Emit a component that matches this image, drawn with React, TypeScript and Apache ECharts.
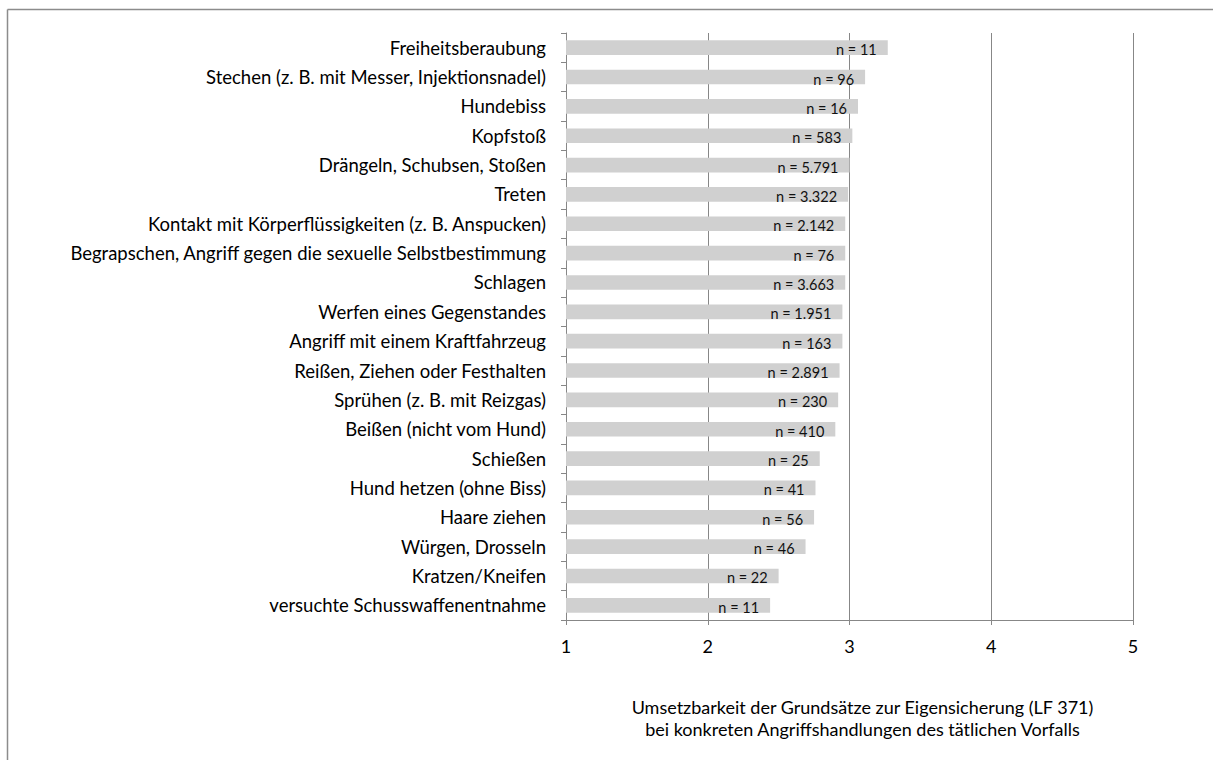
import React, { useEffect, useRef } from "react";
import * as echarts from "echarts";

const categories: string[] = [
  "Freiheitsberaubung",
  "Stechen (z. B. mit Messer, Injektionsnadel)",
  "Hundebiss",
  "Kopfstoß",
  "Drängeln, Schubsen, Stoßen",
  "Treten",
  "Kontakt mit Körperflüssigkeiten (z. B. Anspucken)",
  "Begrapschen, Angriff gegen die sexuelle Selbstbestimmung",
  "Schlagen",
  "Werfen eines Gegenstandes",
  "Angriff mit einem Kraftfahrzeug",
  "Reißen, Ziehen oder Festhalten",
  "Sprühen (z. B. mit Reizgas)",
  "Beißen (nicht vom Hund)",
  "Schießen",
  "Hund hetzen (ohne Biss)",
  "Haare ziehen",
  "Würgen, Drosseln",
  "Kratzen/Kneifen",
  "versuchte Schusswaffenentnahme",
];

const means: number[] = [
  3.27, 3.11, 3.06, 3.02, 3.0, 2.99, 2.97, 2.97, 2.97, 2.95, 2.95, 2.93, 2.92, 2.9, 2.79, 2.76,
  2.75, 2.69, 2.5, 2.44,
];

const nLabels: string[] = [
  "n = 11", "n = 96", "n = 16", "n = 583", "n = 5.791", "n = 3.322", "n = 2.142", "n = 76",
  "n = 3.663", "n = 1.951", "n = 163", "n = 2.891", "n = 230", "n = 410", "n = 25", "n = 41",
  "n = 56", "n = 46", "n = 22", "n = 11",
];

const xTicks = { min: 1, max: 5, interval: 1 };
const axisTitle =
  "Umsetzbarkeit der Grundsätze zur Eigensicherung (LF 371)\nbei konkreten Angriffshandlungen des tätlichen Vorfalls";

const FONT = "Lato, 'Liberation Sans', sans-serif";
const GRID_COLOR = "#878787";

export default function App() {
  const ref = useRef<HTMLDivElement>(null);

  useEffect(() => {
    if (!ref.current) return;
    const chart = echarts.init(ref.current, null, { renderer: "svg" });
    chart.setOption({
      animation: false,
      backgroundColor: "#ffffff",
      textStyle: { fontFamily: FONT },
      grid: { left: 566, right: 80, top: 33, bottom: 140, containLabel: false },
      xAxis: {
        type: "value",
        min: xTicks.min,
        max: xTicks.max,
        interval: xTicks.interval,
        axisLine: { show: true, lineStyle: { color: GRID_COLOR, width: 1 } },
        axisTick: { show: true, length: 5, lineStyle: { color: GRID_COLOR } },
        splitLine: { show: true, lineStyle: { color: GRID_COLOR, width: 1 } },
        axisLabel: { color: "#000", fontSize: 18, margin: 17, fontFamily: FONT },
        name: axisTitle,
        nameLocation: "middle",
        nameGap: 76,
        nameTextStyle: {
          color: "#000",
          fontSize: 18,
          lineHeight: 22,
          fontFamily: FONT,
          padding: [0, 0, 0, 26],
        },
      },
      yAxis: {
        type: "category",
        data: categories,
        inverse: true,
        axisLine: { show: true, lineStyle: { color: GRID_COLOR, width: 1 } },
        axisTick: { show: true, length: 5, lineStyle: { color: GRID_COLOR } },
        splitLine: { show: false },
        axisLabel: { color: "#000", fontSize: 18.5, margin: 20, fontFamily: FONT },
      },
      series: [
        {
          type: "bar",
          data: means,
          barCategoryGap: "50%",
          itemStyle: { color: "#d0d0d0" },
          label: {
            show: true,
            position: "insideRight",
            distance: 11,
            offset: [0, 2],
            color: "#111",
            fontSize: 14.5,
            fontFamily: FONT,
            formatter: (p: any) => nLabels[p.dataIndex],
          },
        },
      ],
      graphic: [
        {
          type: "line",
          shape: { x1: 7.5, y1: 9.5, x2: 1213, y2: 9.5 },
          style: { stroke: "#8c8c8c", lineWidth: 1.5 },
        },
        {
          type: "line",
          shape: { x1: 7.5, y1: 9.5, x2: 7.5, y2: 760 },
          style: { stroke: "#8c8c8c", lineWidth: 1.5 },
        },
      ],
    });
    return () => chart.dispose();
  }, []);

  return (
    <div
      ref={ref}
      style={{ position: "absolute", left: 0, top: 0, width: 1213, height: 760 }}
    />
  );
}
